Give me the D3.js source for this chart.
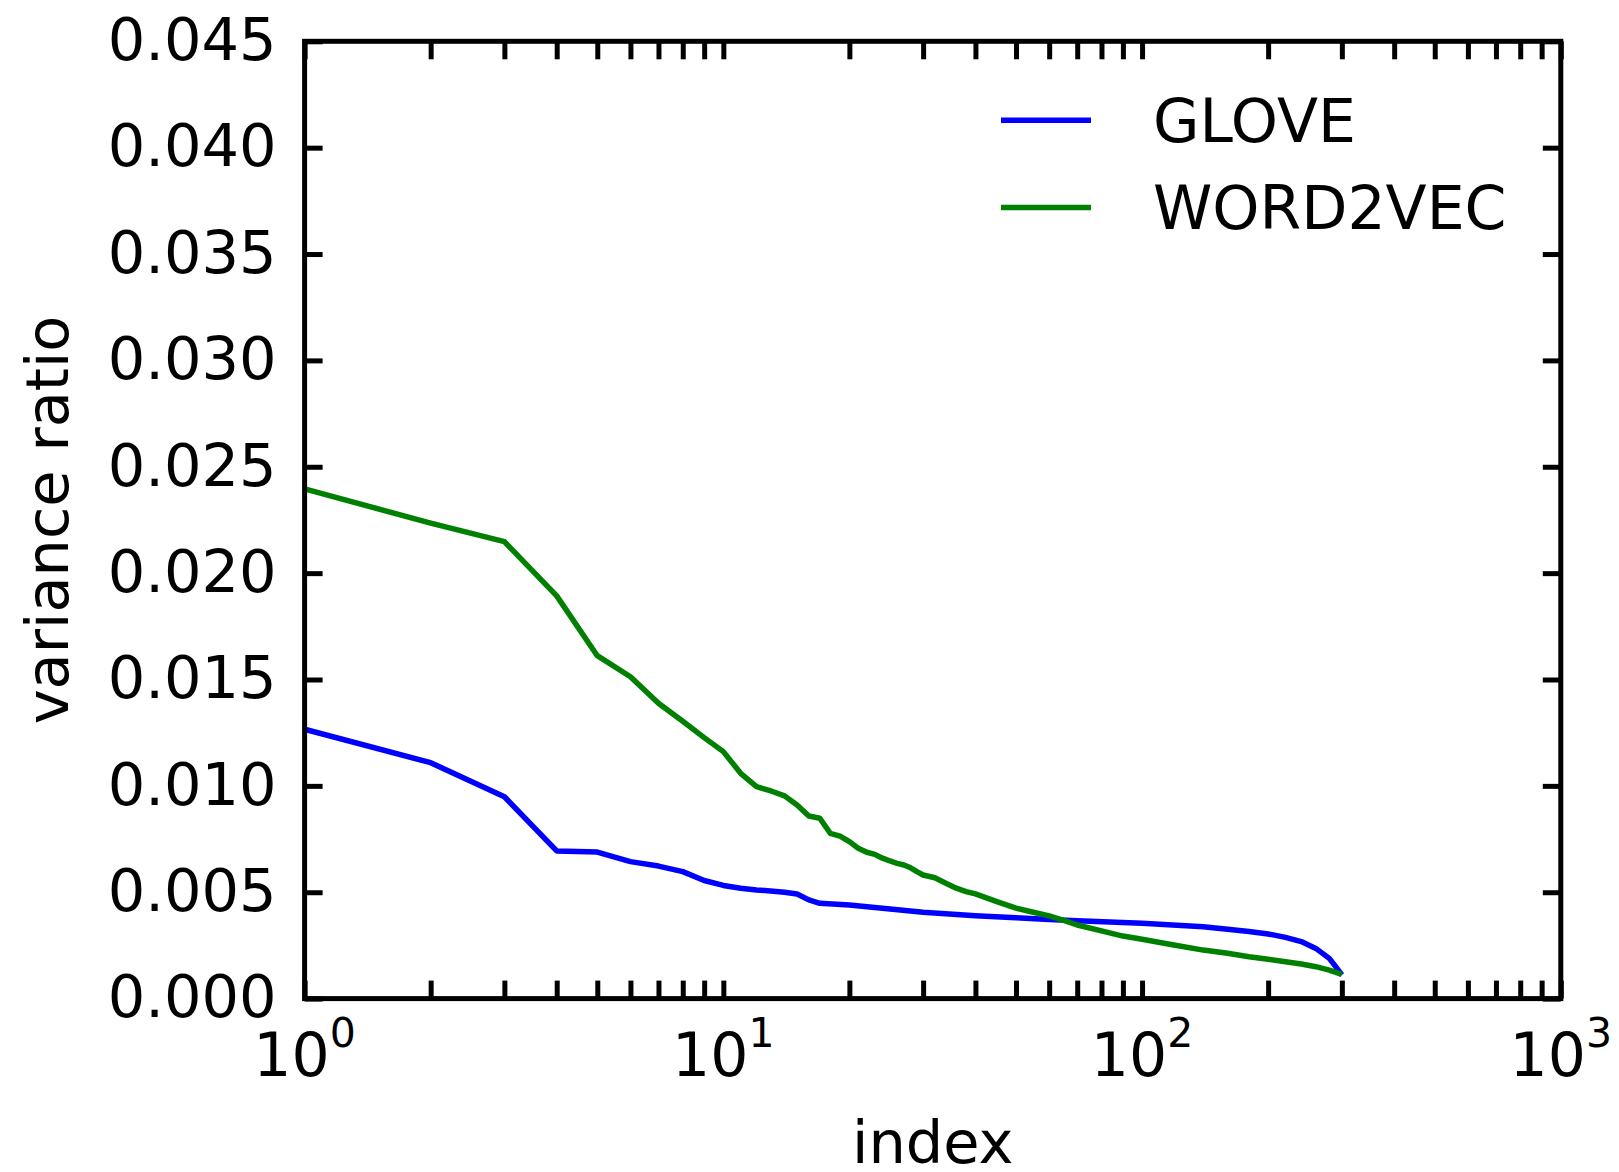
<!DOCTYPE html>
<html>
<head>
<meta charset="utf-8">
<script src="https://cdn.jsdelivr.net/npm/d3@7"></script>
<style>
  body { margin: 0; background: #fff; }
  text { font-family: "DejaVu Sans", sans-serif; fill: #000; }
</style>
</head>
<body>
<svg id="chart" width="1619" height="1172"></svg>
<script>
// values
const gloveIndex = [1, 2, 3, 4, 5, 6, 7, 8, 9, 10, 11, 12, 14, 15, 16, 17, 20, 30, 40, 50, 60, 70, 100, 140, 160, 180, 200, 220, 240, 260, 280, 290, 300];
const gloveValues = [0.01266, 0.01109, 0.00949, 0.00694, 0.00689, 0.00644, 0.00623, 0.00597, 0.00555, 0.00532, 0.00519, 0.00511, 0.00500, 0.00492, 0.00464, 0.00448, 0.00440, 0.00406, 0.00390, 0.00380, 0.00372, 0.00366, 0.00354, 0.00338, 0.00326, 0.00315, 0.00304, 0.00288, 0.00268, 0.00236, 0.00189, 0.00150, 0.00111];

const word2vecIndex = [1, 2, 3, 4, 5, 6, 7, 8, 9, 10, 11, 12, 13, 14, 15, 16, 17, 18, 19, 20, 21, 22, 23, 24, 25, 26, 27, 28, 29, 30, 32, 34, 36, 38, 40, 45, 50, 55, 60, 65, 70, 80, 90, 100, 120, 140, 160, 180, 200, 220, 240, 260, 280, 300];
const word2vecValues = [0.02396, 0.02235, 0.02148, 0.01893, 0.01612, 0.01513, 0.01388, 0.01304, 0.01227, 0.01161, 0.01059, 0.00996, 0.00976, 0.00953, 0.00910, 0.00858, 0.00848, 0.00777, 0.00764, 0.00738, 0.00707, 0.00688, 0.00678, 0.00660, 0.00647, 0.00636, 0.00628, 0.00615, 0.00597, 0.00581, 0.00568, 0.00542, 0.00519, 0.00503, 0.00492, 0.00456, 0.00425, 0.00406, 0.00389, 0.00368, 0.00346, 0.00318, 0.00294, 0.00279, 0.00251, 0.00228, 0.00213, 0.00197, 0.00185, 0.00173, 0.00163, 0.00150, 0.00134, 0.00114];

const seriesNames = ["GLOVE", "WORD2VEC"];
const seriesColors = ["#0000ff", "#008000"];
const yTicks = [0, 0.005, 0.01, 0.015, 0.02, 0.025, 0.03, 0.035, 0.04, 0.045];
const xMajorExponents = [0, 1, 2, 3];

const margin = { left: 304.6, right: 1560.8, top: 41.3, bottom: 998.6 };
const fontSize = 59;
const tickLen = 18;

const svg = d3.select("#chart");

const x = d3.scaleLog().domain([1, 1000]).range([margin.left, margin.right]);
const y = d3.scaleLinear().domain([0, 0.045]).range([margin.bottom, margin.top]);

let xTickValues = [];
for (let e = 0; e < 3; e++) {
  for (let m = 1; m < 10; m++) xTickValues.push(m * Math.pow(10, e));
}
xTickValues.push(1000);

function styleAxis(g) {
  g.select(".domain").remove();
  g.selectAll(".tick line").attr("stroke", "#000").attr("stroke-width", 5);
  g.attr("font-family", "DejaVu Sans").attr("font-size", fontSize);
}

// bottom + top ticks (inside)
svg.append("g")
  .attr("transform", `translate(0,${margin.bottom})`)
  .call(d3.axisBottom(x).tickValues(xTickValues).tickSizeInner(-tickLen).tickSizeOuter(0).tickFormat(""))
  .call(styleAxis);
svg.append("g")
  .attr("transform", `translate(0,${margin.top})`)
  .call(d3.axisTop(x).tickValues(xTickValues).tickSizeInner(-tickLen).tickSizeOuter(0).tickFormat(""))
  .call(styleAxis);

// left + right ticks
svg.append("g")
  .attr("transform", `translate(${margin.left},0)`)
  .call(d3.axisLeft(y).tickValues(yTicks).tickSizeInner(-tickLen).tickSizeOuter(0).tickPadding(28).tickFormat(d3.format(".3f")))
  .call(styleAxis)
  .selectAll(".tick text").attr("dy", "0.31em");
svg.append("g")
  .attr("transform", `translate(${margin.right},0)`)
  .call(d3.axisRight(y).tickValues(yTicks).tickSizeInner(-tickLen).tickSizeOuter(0).tickFormat(""))
  .call(styleAxis);

// x tick labels as 10^n
const xLabels = svg.append("g").attr("font-size", 60);
xMajorExponents.forEach(e => {
  const t = xLabels.append("text")
    .attr("x", x(Math.pow(10, e)))
    .attr("y", 1076)
    .attr("text-anchor", "middle");
  t.append("tspan").text("10");
  t.append("tspan").attr("dy", -29).attr("font-size", 41).text(e);
});

// lines
const line = d3.line().x(d => x(d[0])).y(d => y(d[1]));
const seriesData = [
  gloveIndex.map((d, i) => [d, gloveValues[i]]),
  word2vecIndex.map((d, i) => [d, word2vecValues[i]])
];
seriesData.forEach((data, i) => {
  svg.append("path")
    .datum(data)
    .attr("fill", "none")
    .attr("stroke", seriesColors[i])
    .attr("stroke-width", 5.5)
    .attr("stroke-linejoin", "round")
    .attr("d", line);
});

// frame
svg.append("rect")
  .attr("x", margin.left)
  .attr("y", margin.top)
  .attr("width", margin.right - margin.left)
  .attr("height", margin.bottom - margin.top)
  .attr("fill", "none")
  .attr("stroke", "#000")
  .attr("stroke-width", 5);

// legend
const legend = svg.append("g");
seriesNames.forEach((name, i) => {
  const baseY = 141.7 + i * 87.3;
  legend.append("line")
    .attr("x1", 1001).attr("x2", 1091)
    .attr("y1", baseY - 21.5).attr("y2", baseY - 21.5)
    .attr("stroke", seriesColors[i])
    .attr("stroke-width", 5.5);
  legend.append("text")
    .attr("x", 1153).attr("y", baseY)
    .attr("font-size", 60)
    .text(name);
});

// axis titles
svg.append("text")
  .attr("x", (margin.left + margin.right) / 2)
  .attr("y", 1163)
  .attr("text-anchor", "middle")
  .attr("font-size", fontSize)
  .text("index");
svg.append("text")
  .attr("transform", `translate(68,${(margin.top + margin.bottom) / 2}) rotate(-90)`)
  .attr("text-anchor", "middle")
  .attr("font-size", fontSize)
  .text("variance ratio");
</script>
</body>
</html>
